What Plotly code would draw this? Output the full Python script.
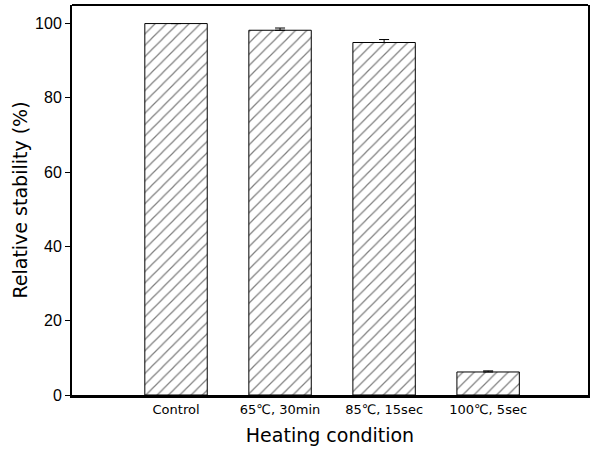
import plotly.graph_objects as go

categories = ["Control", "65\u2103, 30min", "85\u2103, 15sec", "100\u2103, 5sec"]
values = [100.0, 98.2, 94.9, 6.2]
errors = [0.0, 0.6, 0.8, 0.3]
errors_minus = [0.0, 0.0, 0.0, 0.0]
positions = [0, 1, 2, 3]
yticks = [0, 20, 40, 60, 80, 100]

fig = go.Figure()
fig.add_trace(go.Bar(
    x=positions,
    y=values,
    width=0.6,
    marker=dict(
        color="white",
        line=dict(color="black", width=1),
        pattern=dict(shape="/", fgcolor="black", bgcolor="white", size=8, solidity=0.15),
    ),
    error_y=dict(type="data", array=errors, arrayminus=errors_minus, symmetric=False,
                 visible=True, color="black", thickness=1, width=5),
    showlegend=False,
))

fig.update_layout(
    width=595, height=459,
    margin=dict(l=72, r=7, t=5, b=64),
    plot_bgcolor="white", paper_bgcolor="white",
    font=dict(family="DejaVu Sans, sans-serif", color="black"),
    xaxis=dict(
        range=[-1.0, 3.96],
        tickmode="array", tickvals=positions, ticktext=categories,
        tickfont=dict(size=13, family="DejaVu Sans"), ticks="", showgrid=False, zeroline=False,
        showline=True, linecolor="black", linewidth=3, mirror=False,
        title=dict(text="Heating condition", font=dict(size=19), standoff=14),
    ),
    yaxis=dict(
        range=[0, 105],
        tickmode="array", tickvals=yticks,
        tickfont=dict(size=16, family="Liberation Sans"), ticks="outside", ticklen=5, tickcolor="black",
        showgrid=False, zeroline=False,
        showline=True, linecolor="black", linewidth=2, mirror=True,
        title=dict(text="Relative stability (%)", font=dict(size=19), standoff=2),
    ),
    shapes=[dict(type="line", xref="paper", yref="paper", x0=0, x1=1, y0=1, y1=1,
                 line=dict(color="black", width=2))],
)

fig.write_html("out.html")
